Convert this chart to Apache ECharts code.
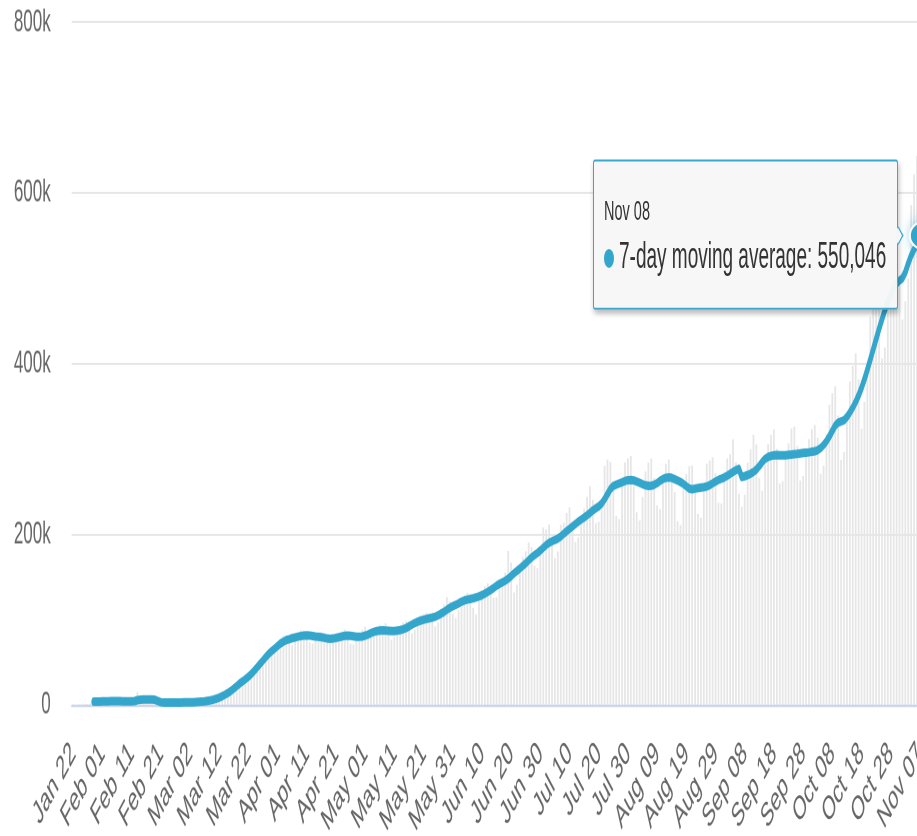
<!DOCTYPE html>
<html>
<head>
<meta charset="utf-8">
<script src="https://cdn.jsdelivr.net/npm/echarts@6/dist/echarts.min.js"></script>
<style>
html { overflow: hidden; }
html, body { margin: 0; padding: 0; background: #fff; width: 917px; height: 836px; }
/* the reference is stretched vertically, so the chart is drawn short and scaled */
#chart { width: 917px; height: 440px; transform: scale(1, 1.9); transform-origin: 0 0; }
</style>
</head>
<body>
<div id="chart"></div>
<script>
// categories: Jan 22 .. Nov 08 (2020)
const monthNames = ['Jan', 'Feb', 'Mar', 'Apr', 'May', 'Jun', 'Jul', 'Aug', 'Sep', 'Oct', 'Nov'];
const monthDays = [31, 29, 31, 30, 31, 30, 31, 31, 30, 31, 30];
const firstDay = [0, 22];
const lastDay = [10, 8];

const dates = [];
for (let m = firstDay[0]; m <= lastDay[0]; m++) {
    const d0 = m === firstDay[0] ? firstDay[1] : 1;
    const d1 = m === lastDay[0] ? lastDay[1] : monthDays[m];
    for (let d = d0; d <= d1; d++) {
        dates.push(monthNames[m] + ' ' + (d < 10 ? '0' + d : d));
    }
}

// daily new cases, thousands
const dailyCases = [
    0.6, 0.1, 0.3, 0.7, 0.8, 1.0, 1.7,
    3.6, 4.0, 4.2, 3.9, 3.7, 3.8, 4.3,
    4.6, 4.4, 4.5, 4.2, 3.9, 4.0, 4.3,
    4.8, 15.1, 6.4, 5.1, 4.3, 4.1, 4.0,
    3.3, 2.1, 2.4, 2.3, 2.6, 2.9, 2.8,
    3.0, 3.2, 3.1, 3.0, 2.9, 3.2, 3.4,
    3.3, 3.6, 4.2, 4.5, 5.1, 5.8, 6.9,
    7.9, 9.0, 11.6, 12.3, 14.2, 16.8, 20.1,
    23.5, 27.8, 29.9, 31.4, 32.8, 36.5, 41.2,
    46.4, 51.0, 55.4, 59.6, 58.1, 60.3, 68.7,
    72.6, 77.5, 80.9, 79.6, 74.3, 69.9, 76.2,
    83.7, 87.5, 86.9, 82.6, 73.5, 71.8, 76.4,
    81.6, 85.2, 84.6, 82.1, 71.3, 74.6, 76.8,
    80.2, 86.3, 88.5, 84.9, 71.6, 70.9, 76.1,
    78.5, 88.2, 91.4, 85.6, 79.2, 80.5, 81.7,
    93.8, 90.3, 95.6, 89.0, 76.4, 80.1, 85.3,
    91.2, 96.5, 98.3, 97.4, 84.0, 88.2, 95.7,
    104.5, 106.3, 107.9, 101.2, 98.6, 92.1, 96.4,
    108.7, 117.3, 126.4, 121.2, 107.0, 101.8, 110.6,
    124.9, 128.4, 131.3, 129.6, 113.5, 106.1, 121.4,
    134.7, 139.2, 142.6, 137.0, 125.8, 126.3, 141.1,
    148.5, 155.0, 180.3, 166.7, 131.9, 140.6, 164.4,
    173.5, 180.2, 190.3, 184.7, 163.2, 160.1, 178.9,
    208.0, 205.7, 211.4, 191.6, 172.1, 179.8, 210.9,
    213.5, 225.0, 231.4, 213.2, 190.9, 196.4, 218.3,
    229.8, 243.7, 256.2, 240.3, 213.1, 215.0, 235.6,
    280.1, 287.6, 284.7, 262.3, 221.6, 217.9, 255.9,
    284.1, 289.0, 291.7, 256.1, 225.8, 216.3, 243.6,
    273.4, 284.2, 288.6, 265.9, 233.7, 229.5, 261.8,
    282.3, 287.4, 271.6, 249.3, 215.2, 210.8, 256.1,
    270.5, 279.8, 280.6, 258.9, 224.0, 219.4, 254.2,
    282.7, 286.4, 290.3, 271.6, 236.8, 236.0, 273.1,
    288.9, 293.5, 311.2, 284.1, 247.6, 232.1, 246.3,
    284.0, 299.6, 316.5, 305.3, 265.8, 250.9, 281.2,
    305.5, 316.4, 322.8, 300.1, 259.4, 262.3, 288.9,
    306.7, 323.9, 326.3, 303.5, 263.0, 268.2, 293.6,
    311.5, 323.4, 327.8, 313.1, 270.9, 280.5, 317.4,
    351.8, 365.1, 373.6, 338.9, 287.2, 296.0, 339.8,
    379.1, 397.5, 412.0, 381.4, 323.6, 355.2, 395.7,
    454.9, 491.0, 496.6, 467.3, 406.2, 418.8, 474.5,
    520.3, 542.1, 546.9, 493.5, 451.6, 473.2, 499.8,
    585.6, 621.7, 643.4, 608.9, 502.3
];

// 7-day moving average, thousands
const movingAverage = [
    null, null, null, null, null, null, null, 3.8, 3.9, 4.0,
    4.1, 4.2, 4.3, 4.4, 4.5, 4.5, 4.4, 4.3, 4.2, 4.2,
    4.3, 4.4, 5.6, 6.1, 6.3, 6.4, 6.4, 6.3, 6.1, 4.5,
    3.2, 2.9, 2.8, 2.7, 2.7, 2.8, 2.9, 2.9, 3.0, 3.0,
    3.1, 3.2, 3.3, 3.5, 3.8, 4.2, 4.8, 5.4, 6.2, 7.3,
    8.5, 10.2, 12.0, 14.0, 16.3, 19.0, 22.0, 25.0, 27.5, 30.2,
    33.0, 36.2, 40.0, 44.0, 48.0, 52.0, 56.0, 60.0, 63.0, 66.0,
    69.0, 72.0, 74.0, 76.0, 77.0, 78.2, 79.0, 80.0, 80.8, 81.3,
    81.5, 81.4, 80.8, 80.2, 79.8, 79.4, 78.6, 77.8, 77.4, 77.8,
    78.5, 79.3, 80.2, 81.0, 81.2, 81.0, 80.5, 80.0, 79.8, 80.2,
    81.2, 82.6, 84.2, 85.6, 86.6, 87.2, 87.4, 87.2, 86.8, 86.5,
    86.6, 87.0, 87.6, 88.6, 90.0, 92.0, 94.0, 96.0, 97.6, 98.8,
    99.8, 100.8, 101.6, 102.4, 103.4, 105.0, 107.0, 109.0, 111.5, 113.8,
    115.6, 117.2, 119.0, 121.0, 122.4, 123.4, 124.2, 125.0, 126.0, 127.2,
    128.6, 130.4, 132.4, 134.6, 137.0, 139.6, 141.8, 143.6, 145.6, 148.0,
    151.0, 154.2, 157.2, 160.0, 163.0, 166.0, 169.4, 172.8, 175.6, 178.0,
    181.0, 184.2, 187.4, 190.0, 191.8, 193.2, 195.0, 197.4, 200.6, 203.6,
    206.4, 209.2, 212.0, 214.8, 217.2, 219.6, 222.2, 225.0, 228.0, 230.4,
    232.6, 236.0, 241.0, 247.0, 253.0, 256.6, 258.2, 259.6, 261.0, 262.4,
    263.4, 263.6, 263.0, 261.8, 260.4, 258.8, 257.4, 256.6, 256.8, 258.0,
    260.0, 262.6, 264.8, 266.2, 266.6, 266.0, 264.6, 263.0, 261.2, 259.0,
    256.2, 253.6, 252.8, 253.4, 254.0, 254.6, 255.2, 256.0, 257.6, 259.6,
    261.8, 263.6, 265.0, 266.6, 268.6, 270.8, 273.0, 275.2, 276.6, 267.0,
    268.0, 269.4, 271.0, 273.0, 276.0, 280.0, 284.6, 288.4, 290.6, 291.8,
    292.4, 292.8, 292.6, 292.4, 292.6, 293.0, 293.4, 293.8, 294.2, 294.8,
    295.2, 295.6, 296.0, 296.6, 297.2, 298.6, 301.0, 304.6, 309.0, 314.6,
    321.2, 327.4, 330.8, 332.2, 333.6, 337.4, 342.6, 348.4, 355.0, 362.6,
    371.4, 381.6, 392.8, 404.6, 416.6, 428.6, 440.4, 451.8, 462.6, 472.6,
    481.4, 488.4, 493.6, 497.2, 500.0, 507.0, 517.4, 526.6, 533.8, 539.6,
    545.2, 550.046
];

const yTicks = [0, 200, 400, 600, 800];

const lineColor = '#34a6cc';
const fontFamily = 'Liberation Sans';
const lastIndex = movingAverage.length - 1;

const lineData = movingAverage.map((v, i) => {
    if (i !== lastIndex) return v;
    return {
        value: v,
        symbol: 'circle',
        symbolSize: [26, 14],
        itemStyle: {
            color: lineColor,
            borderColor: '#fff',
            borderWidth: 1.5,
            shadowColor: 'rgba(52, 166, 204, 0.45)',
            shadowBlur: 8
        }
    };
});

const chartDom = document.getElementById('chart');
const myChart = echarts.init(chartDom, null, {devicePixelRatio: 2});

const option = {
    animation: false,
    backgroundColor: '#fff',
    grid: {
        left: 71.7,
        top: 11.7,
        width: 852.6,
        bottom: 69,
        containLabel: false,
        outerBoundsMode: 'none'
    },
    tooltip: {
        trigger: 'item',
        triggerOn: 'none',
        alwaysShowContent: true,
        position: 'left',
        transitionDuration: 0,
        backgroundColor: 'rgba(247, 247, 247, 0.96)',
        borderColor: '#3aa8cf',
        borderWidth: 1.5,
        padding: [16, 11, 14, 10],
        textStyle: {fontFamily: fontFamily, color: '#333'},
        extraCssText: 'box-shadow: 1px 2px 4px rgba(0,0,0,0.25); border-radius: 2px;',
        formatter: function (params) {
            const v = Math.round(params.value * 1000).toLocaleString('en-US');
            const marker = '<span style="display:inline-block;width:10px;height:10px;border-radius:5px;' +
                'background:' + lineColor + ';margin-right:5px;vertical-align:middle"></span>';
            return '<div style="font-size:14.5px;line-height:21px;color:#333">' + params.name + '</div>' +
                '<div style="font-size:19px;line-height:26px;color:#333;white-space:nowrap">' +
                marker + params.seriesName + ': ' + v + '</div>';
        }
    },
    xAxis: {
        type: 'category',
        data: dates,
        boundaryGap: true,
        z: 3,
        axisLine: {lineStyle: {color: '#ccd6eb', width: 1.2}},
        axisTick: {show: false},
        axisLabel: {
            interval: 9,
            rotate: 45,
            margin: 23,
            color: '#666',
            fontSize: 17.5,
            fontFamily: fontFamily
        },
        splitLine: {show: false}
    },
    yAxis: {
        type: 'value',
        min: yTicks[0],
        max: yTicks[yTicks.length - 1],
        interval: yTicks[1] - yTicks[0],
        axisLine: {show: false},
        axisTick: {show: false},
        axisLabel: {
            margin: 21,
            color: '#666',
            fontSize: 17,
            fontFamily: fontFamily,
            formatter: function (value) {
                return value === 0 ? '0' : value + 'k';
            }
        },
        splitLine: {lineStyle: {color: '#e6e6e6', width: 1}}
    },
    series: [
        {
            name: 'Daily Cases',
            type: 'bar',
            data: dailyCases,
            barCategoryGap: '40%',
            itemStyle: {color: '#e6e6e6'},
            silent: true,
            tooltip: {show: false}
        },
        {
            name: '7-day moving average',
            type: 'line',
            data: lineData,
            z: 4,
            symbol: 'none',
            showSymbol: true,
            showAllSymbol: true,
            connectNulls: false,
            emphasis: {scale: false},
            lineStyle: {color: lineColor, width: 4.5, cap: 'round', join: 'round'},
            itemStyle: {color: lineColor}
        }
    ]
};
myChart.setOption(option);

function pinTip() {
    myChart.dispatchAction({type: 'showTip', seriesIndex: 1, dataIndex: lastIndex});
}
pinTip();
setTimeout(pinTip, 50);
</script>
</body>
</html>
